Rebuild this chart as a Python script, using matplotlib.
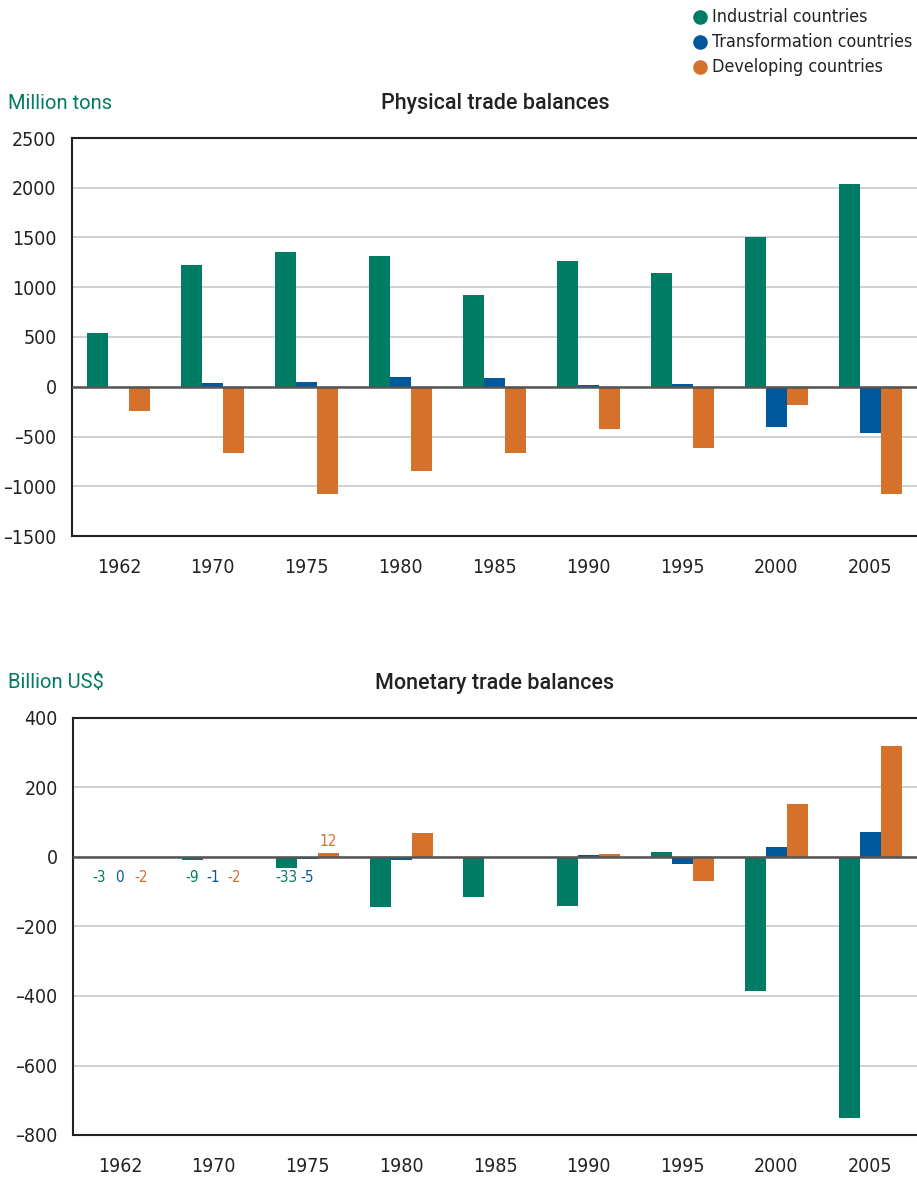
import matplotlib.pyplot as plt
import numpy as np
from matplotlib import font_manager
from matplotlib.lines import Line2D
from matplotlib.ticker import FuncFormatter

# --- data ---
years = ["1962", "1970", "1975", "1980", "1985", "1990", "1995", "2000", "2005"]
series = ["Industrial countries", "Transformation countries", "Developing countries"]
colors = ["#007c64", "#00589c", "#d5712b"]

# physical trade balances, million tons
phys_industrial = [540, 1225, 1355, 1318, 918, 1265, 1142, 1500, 2040]
phys_transform = [-8, 38, 48, 100, 92, 22, 25, -400, -460]
phys_developing = [-240, -670, -1080, -842, -665, -428, -612, -188, -1080]

# monetary trade balances, billion US$
mon_industrial = [-3, -9, -33, -144, -115, -141, 15, -385, -750]
mon_transform = [0, -1, -5, -10, -2, 5, -20, 30, 72]
mon_developing = [-2, -2, 12, 70, -1, 10, -70, 153, 320]

# small values written as numbers under/over the first groups
mon_labels = [(0, 0, "-3"), (0, 1, "0"), (0, 2, "-2"),
              (1, 0, "-9"), (1, 1, "-1"), (1, 2, "-2"),
              (2, 0, "-33"), (2, 1, "-5"), (2, 2, "12")]

# pick a condensed face if one is installed
cond_family, cond_stretch, cond_scale = None, "normal", 1.0
for f in font_manager.fontManager.ttflist:
    st = str(f.stretch)
    if "Narrow" in f.name or st in ("condensed", "semi-condensed", "600", "700", "750"):
        if "Mono" in f.name or "Serif" in f.name:
            continue
        cond_family, cond_stretch = f.name, f.stretch
        break
if cond_family is None:
    cond_family, cond_scale = "Roboto", 0.86
narrow = [cond_family, "DejaVu Sans"]
title_font = ["Roboto", "DejaVu Sans"]
green_txt = "#007c64"

W, H = 917, 1177
fig = plt.figure(figsize=(W / 100, H / 100), dpi=100)


def fmt(v, pos):
    s = f"{int(v)}"
    return s.replace("-", "\u2013")


def draw_panel(ax, data, ylim, step, unit, title):
    x = np.arange(len(years))
    bw = 0.224
    for i, vals in enumerate(data):
        ax.bar(x + (i - 1) * bw, vals, width=bw, color=colors[i],
               edgecolor="none", zorder=3)
    ax.set_xlim(-0.5, len(years) - 0.5)
    ax.set_ylim(*ylim)
    ax.set_yticks(np.arange(ylim[0], ylim[1] + 1, step))
    ax.yaxis.set_major_formatter(FuncFormatter(fmt))
    ax.set_xticks(x)
    ax.set_xticklabels(years)
    ax.grid(axis="y", color="#c8c8c8", linewidth=1.2, zorder=0)
    ax.axhline(0, color="#555555", linewidth=1.8, zorder=4)
    for side in ["left", "top", "bottom"]:
        ax.spines[side].set_color("#222222")
        ax.spines[side].set_linewidth(1.5)
    ax.spines["right"].set_visible(False)
    ax.tick_params(length=0, labelsize=14 * cond_scale, colors="#222222")
    ax.tick_params(axis="y", pad=11)
    ax.tick_params(axis="x", pad=16)
    for lab in ax.get_xticklabels() + ax.get_yticklabels():
        lab.set_family(narrow)
        lab.set_stretch(cond_stretch)
    pos = ax.get_position()
    fig.text(8 / W, pos.y1 + 35 / H, unit, color=green_txt, fontsize=14.5,
             family=title_font, va="center", ha="left")
    fig.text(495 / W, pos.y1 + 35 / H, title, color="#222222", fontsize=15.5,
             family=title_font, fontweight="medium", va="center", ha="center")


# top panel: physical
ax1 = fig.add_axes([72 / W, 1 - 536 / H, (W - 72) / W, (536 - 138) / H])
draw_panel(ax1, [phys_industrial, phys_transform, phys_developing],
           (-1500, 2500), 500, "Million tons", "Physical trade balances")

# bottom panel: monetary
ax2 = fig.add_axes([73 / W, 1 - 1135 / H, (W - 73) / W, (1135 - 718) / H])
draw_panel(ax2, [mon_industrial, mon_transform, mon_developing],
           (-800, 400), 200, "Billion US$", "Monetary trade balances")

mon_data = [mon_industrial, mon_transform, mon_developing]
for g, s, txt in mon_labels:
    v = mon_data[s][g]
    xpos = g + (s - 1) * 0.224
    if v > 0:
        ax2.text(xpos, v + 10, txt, color=colors[s], fontsize=11 * cond_scale,
                 family=narrow, stretch=cond_stretch, ha="center", va="bottom")
    else:
        ax2.text(xpos, -58, txt, color=colors[s], fontsize=11 * cond_scale,
                 family=narrow, stretch=cond_stretch, ha="center", va="center")

# legend at top right, drawn by hand so the text can be fitted to the edge
leg_texts = []
for i, (name, c) in enumerate(zip(series, colors)):
    yy = 1 - (17 + 25 * i) / H
    fig.add_artist(Line2D([700 / W], [yy], marker="o", markersize=10.5,
                          markerfacecolor=c, markeredgecolor="none",
                          linestyle="none", transform=fig.transFigure))
    leg_texts.append(fig.text(712 / W, yy, name, color="#222222", fontsize=13.5,
                              family=narrow, stretch=cond_stretch,
                              ha="left", va="center"))
fig.canvas.draw()
renderer = fig.canvas.get_renderer()
widest = max(t.get_window_extent(renderer).x1 for t in leg_texts)
if widest > 912:
    shrink = (912 - 712) / (widest - 712)
    for t in leg_texts:
        t.set_fontsize(13.5 * shrink)

fig.savefig("out.png", dpi=100)
